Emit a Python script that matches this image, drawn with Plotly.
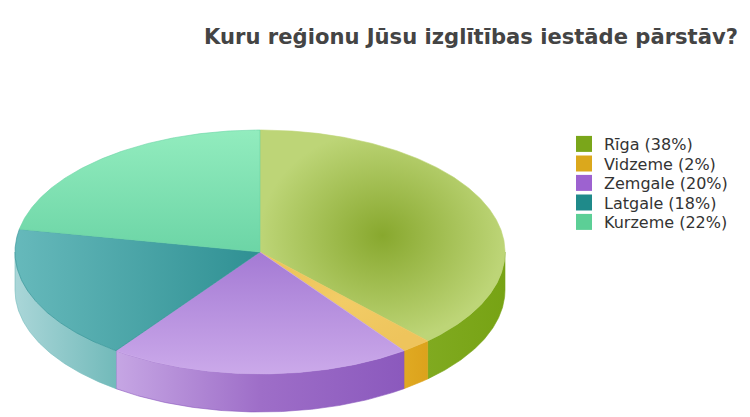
import numpy as np
import plotly.graph_objects as go

# ---- data ----
labels = ["Rīga", "Vidzeme", "Zemgale", "Latgale", "Kurzeme"]
values = [38, 2, 20, 18, 22]
legend_colors = ["#7aa61a", "#dba81c", "#9d62d0", "#1f8a8a", "#5ccf96"]
title_text = "Kuru reģionu Jūsu izglītības iestāde pārstāv?"

# ---- styles ----
top_styles = [
    dict(type="radial", colorscale=[[0, "#88a82e"], [1, "#bdd577"]]),
    dict(type="radial", colorscale=[[0, "#f2cc66"], [1, "#eec45c"]]),
    dict(type="vertical", colorscale=[[0, "#a47ad4"], [1, "#cba9ea"]]),
    dict(type="horizontal", colorscale=[[0, "#66b9bb"], [1, "#2f9093"]]),
    dict(type="vertical", colorscale=[[0, "#92ecbe"], [1, "#6cd5a6"]]),
]
side_styles = [
    [[0, "#80aa20"], [1, "#77a314"]],
    [[0, "#e0aa22"], [1, "#dca21c"]],
    [[0, "#c6a6e4"], [0.5, "#9e6ec8"], [1, "#8b59bd"]],
    [[0, "#aad6d8"], [1, "#72baba"]],
    [[0, "#8ee6b8"], [1, "#70d4a6"]],
]

W, H = 750, 417
OFF = 8  # page body margin compensation
CX, CY, RX, RY, DEPTH = 260 - OFF, 252 - OFF, 245, 122, 38
LEG_X, LEG_Y0, LEG_DY = 564 - OFF, 144 - OFF, 19.5


def arc(a1, a2, dy=0.0):
    t = np.radians(np.linspace(a1, a2, max(3, int(abs(a2 - a1) * 2) + 2)))
    return CX + RX * np.sin(t), CY - RY * np.cos(t) + dy


fig = go.Figure()
total = float(sum(values))
bounds = np.concatenate([[0], np.cumsum(values) / total * 360.0])

# sides (front half only)
for i, v in enumerate(values):
    a1, a2 = bounds[i], bounds[i + 1]
    s, e = max(a1, 90), min(a2, 270)
    if e <= s:
        continue
    xt, yt = arc(s, e)
    xb, yb = arc(e, s, DEPTH)
    xs = np.concatenate([xt, xb, xt[:1]])
    ys = np.concatenate([yt, yb, yt[:1]])
    fig.add_trace(go.Scatter(
        x=xs, y=ys, mode="lines", fill="toself",
        line=dict(width=0.6, color=side_styles[i][-1][1]),
        fillgradient=dict(type="horizontal", colorscale=side_styles[i],
                          start=float(xs.min()), stop=float(xs.max())),
        hoverinfo="skip", showlegend=False))

# tops
for i, v in enumerate(values):
    a1, a2 = bounds[i], bounds[i + 1]
    xa, ya = arc(a1, a2)
    xs = np.concatenate([[CX], xa, [CX]])
    ys = np.concatenate([[CY], ya, [CY]])
    st = top_styles[i]
    fg = dict(type=st["type"], colorscale=st["colorscale"])
    if st["type"] == "horizontal":
        fg.update(start=float(xs.min()), stop=float(xs.max()))
    elif st["type"] == "vertical":
        fg.update(start=float(ys.min()), stop=float(ys.max()))
    fig.add_trace(go.Scatter(
        x=xs, y=ys, mode="lines", fill="toself",
        line=dict(width=0.6, color=st["colorscale"][-1][1]),
        fillgradient=fg, hoverinfo="skip", showlegend=False))

# legend entries, one legend per row for exact spacing
legend_layouts = {}
for k, (lab, v, c) in enumerate(zip(labels, values, legend_colors)):
    lname = "legend" if k == 0 else f"legend{k + 1}"
    fig.add_trace(go.Scatter(
        x=[None], y=[None], mode="markers",
        marker=dict(symbol="square", size=18, color=c),
        name=f"{lab} ({v}%)", legend=lname))
    legend_layouts[lname] = dict(
        x=LEG_X / W, y=1 - (LEG_Y0 + k * LEG_DY) / H,
        xanchor="left", yanchor="middle",
        font=dict(family="DejaVu Sans", size=16, color="#333333"),
        bgcolor="rgba(0,0,0,0)", itemwidth=30, borderwidth=0)

fig.update_layout(
    width=W, height=H,
    margin=dict(l=0, r=0, t=0, b=0),
    paper_bgcolor="white", plot_bgcolor="white",
    xaxis=dict(range=[0, W], visible=False, fixedrange=True),
    yaxis=dict(range=[H, 0], visible=False, fixedrange=True),
    title=dict(text=title_text, x=(471 - OFF) / W, xanchor="center",
               y=1 - (37 - OFF) / H, yanchor="middle",
               font=dict(family="DejaVu Sans", size=21.1, color="#444444", weight=700)),
    showlegend=True,
    **legend_layouts,
)

fig.write_html("out.html")
